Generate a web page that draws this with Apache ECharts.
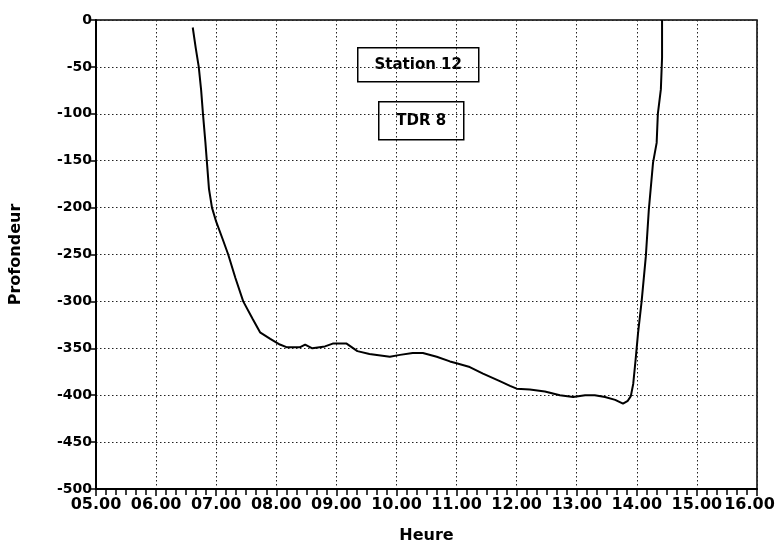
<!DOCTYPE html>
<html>
<head>
<meta charset="utf-8">
<script src="https://cdn.jsdelivr.net/npm/echarts@6/dist/echarts.min.js"></script>
<style>html,body{margin:0;padding:0;background:#fff}#c{width:778px;height:545px}</style>
</head>
<body>
<div id="c"></div>
<script>
// Time in decimal hours
const hours = [6.61,6.66,6.71,6.75,6.78,6.82,6.85,6.88,6.93,7.0,7.11,7.2,7.32,7.45,7.61,7.73,7.9,8.06,8.18,8.39,8.48,8.6,8.81,8.94,9.17,9.35,9.55,9.89,10.06,10.27,10.44,10.67,10.89,11.0,11.22,11.44,11.72,11.89,12.0,12.22,12.47,12.72,12.94,13.14,13.3,13.47,13.64,13.77,13.85,13.9,13.94,13.98,14.02,14.08,14.15,14.2,14.27,14.33,14.35,14.40,14.42,14.42];
// Depth
const depth = [-8,-30,-50,-75,-100,-130,-155,-180,-200,-215,-234,-250,-275,-300,-319,-333,-340,-346,-349,-349,-346,-350,-348,-345,-345,-353,-356,-359,-357,-355,-355,-359,-364,-366,-370,-377,-385,-390,-393,-394,-396,-400,-402,-400,-400,-402,-405,-409,-406,-401,-388,-362,-334,-300,-252,-202,-152,-131,-100,-74,-40,0];
const xTicks = [5,6,7,8,9,10,11,12,13,14,15,16];
const yTicks = [0,-50,-100,-150,-200,-250,-300,-350,-400,-450,-500];
const labels = ['Station 12','TDR 8'];

const chart = echarts.init(document.getElementById('c'), null, {renderer:'canvas'});
const font = 'DejaVu Sans';
const dots = {color:'#222', width:1, type:[1.5,2.5]};
const xMax = xTicks[xTicks.length-1];
chart.setOption({
  animation:false,
  backgroundColor:'#fff',
  grid:{left:96,right:21,top:20,bottom:56,show:true,borderColor:'#000',borderWidth:1.5,backgroundColor:'transparent',outerBoundsMode:'none',containLabel:false},
  xAxis:{
    type:'value', min:xTicks[0], max:xMax, interval:1,
    name:'Heure', nameLocation:'middle', nameGap:39,
    nameTextStyle:{fontFamily:font,fontWeight:'bold',fontSize:16,color:'#000'},
    axisLine:{show:true,onZero:false,lineStyle:{color:'#000',width:2}},
    axisTick:{show:true,length:7,lineStyle:{color:'#000',width:1.5}},
    minorTick:{show:true,splitNumber:6,length:6,lineStyle:{color:'#000',width:1.5}},
    axisLabel:{fontFamily:font,fontWeight:'bold',fontSize:16,color:'#000',margin:8,hideOverlap:false,
      showMaxLabel:true, showMinLabel:true,
      formatter:v=>{const s=(v<10?'0':'')+v+'.00';return v===xMax?'{last|'+s+'}':s;},
      rich:{last:{fontFamily:font,fontWeight:'bold',fontSize:16,color:'#000',padding:[0,15,0,0]}}},
    splitLine:{show:true,lineStyle:dots}
  },
  yAxis:{
    type:'value', min:yTicks[yTicks.length-1], max:yTicks[0], interval:50,
    name:'Profondeur', nameLocation:'middle', nameGap:72, nameRotate:90,
    nameTextStyle:{fontFamily:font,fontWeight:'bold',fontSize:16,color:'#000'},
    axisLine:{show:true,onZero:false,lineStyle:{color:'#000',width:2}},
    axisTick:{show:true,length:5,lineStyle:{color:'#000',width:1.5}},
    axisLabel:{fontFamily:font,fontWeight:'bold',fontSize:14,color:'#000',margin:4},
    splitLine:{show:true,lineStyle:dots}
  },
  graphic:[
    {type:'group',left:357,top:47,children:[
      {type:'rect',shape:{x:0,y:0,width:121,height:34},style:{fill:'#fff',stroke:'#000',lineWidth:1.5}},
      {type:'text',style:{x:60.5,y:17,text:labels[0],align:'center',verticalAlign:'middle',font:'bold 15px "DejaVu Sans"',fill:'#000'}}
    ]},
    {type:'group',left:378,top:101,children:[
      {type:'rect',shape:{x:0,y:0,width:85,height:38},style:{fill:'#fff',stroke:'#000',lineWidth:1.5}},
      {type:'text',style:{x:42.5,y:19,text:labels[1],align:'center',verticalAlign:'middle',font:'bold 15px "DejaVu Sans"',fill:'#000'}}
    ]}
  ],
  series:[{
    type:'line', data:hours.map((h,i)=>[h,depth[i]]), showSymbol:false, symbol:'none',
    lineStyle:{color:'#000',width:2}, clip:false
  }]
});
</script>
</body>
</html>
